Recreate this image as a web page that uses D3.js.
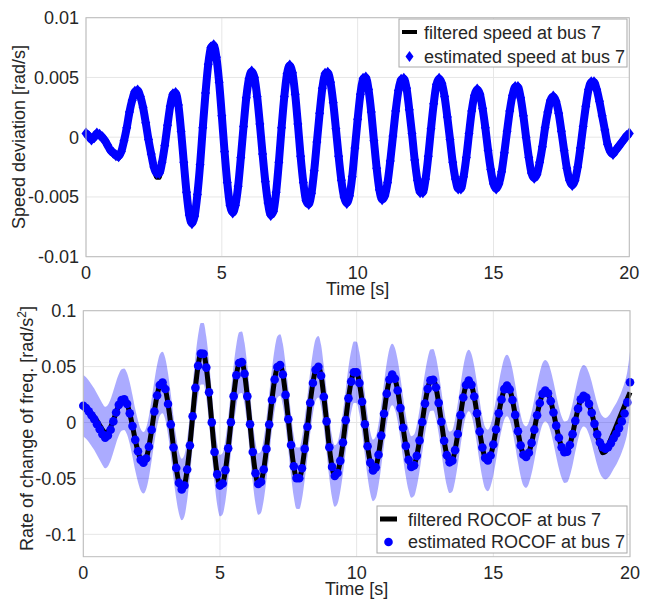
<!DOCTYPE html>
<html><head><meta charset="utf-8">
<script src="https://cdn.jsdelivr.net/npm/d3@7"></script>
<style>
body{margin:0;background:#fff;}
text{font-family:"Liberation Sans",Arial,Helvetica,sans-serif;fill:#262626;}
</style></head><body>
<svg id="chart" width="650" height="600"></svg>
<script>
// ---------------- DATA ----------------
const sampleStep = 0.1; // s, sampling grid 0..20 s
const speedEstimated = [
0.0003,0.0001,-0.0002,0.0000,0.0003,0.0002,0.0000,-0.0003,-0.0007,-0.0011,
-0.0013,-0.0015,-0.0016,-0.0012,-0.0003,0.0008,0.0021,0.0031,0.0038,0.0039,
0.0034,0.0025,0.0012,-0.0002,-0.0014,-0.0025,-0.0030,-0.0030,-0.0021,-0.0007,
0.0010,0.0026,0.0036,0.0037,0.0027,0.0005,-0.0021,-0.0046,-0.0065,-0.0072,
-0.0066,-0.0048,-0.0023,0.0008,0.0037,0.0061,0.0075,0.0077,0.0067,0.0046,
0.0018,-0.0012,-0.0038,-0.0057,-0.0063,-0.0057,-0.0041,-0.0017,0.0009,0.0033,
0.0049,0.0055,0.0050,0.0034,0.0011,-0.0014,-0.0037,-0.0055,-0.0065,-0.0062,
-0.0046,-0.0021,0.0008,0.0034,0.0053,0.0060,0.0054,0.0036,0.0011,-0.0016,
-0.0038,-0.0053,-0.0056,-0.0047,-0.0028,-0.0004,0.0020,0.0041,0.0053,0.0054,
0.0046,0.0029,0.0007,-0.0016,-0.0036,-0.0050,-0.0055,-0.0049,-0.0033,-0.0009,
0.0015,0.0036,0.0049,0.0050,0.0040,0.0021,-0.0003,-0.0026,-0.0044,-0.0052,
-0.0049,-0.0038,-0.0020,0.0001,0.0022,0.0039,0.0048,0.0049,0.0041,0.0023,
0.0003,-0.0019,-0.0036,-0.0046,-0.0046,-0.0035,-0.0016,0.0007,0.0028,0.0044,
0.0049,0.0045,0.0034,0.0017,-0.0002,-0.0021,-0.0035,-0.0043,-0.0043,-0.0033,
-0.0017,0.0003,0.0022,0.0035,0.0040,0.0036,0.0024,0.0008,-0.0011,-0.0027,
-0.0039,-0.0043,-0.0039,-0.0029,-0.0013,0.0005,0.0022,0.0035,0.0042,0.0042,
0.0033,0.0018,0.0000,-0.0017,-0.0030,-0.0034,-0.0031,-0.0021,-0.0008,0.0008,
0.0021,0.0031,0.0034,0.0030,0.0020,0.0005,-0.0011,-0.0026,-0.0036,-0.0040,
-0.0036,-0.0025,-0.0009,0.0009,0.0026,0.0040,0.0046,0.0046,0.0040,0.0030,
0.0018,0.0006,-0.0006,-0.0012,-0.0014,-0.0011,-0.0008,-0.0005,-0.0002,0.0001,
0.0003];
const speedFiltered = [
0.0003,0.0001,-0.0002,0.0000,0.0003,0.0002,0.0000,-0.0003,-0.0007,-0.0011,
-0.0015,-0.0017,-0.0018,-0.0013,-0.0003,0.0008,0.0021,0.0031,0.0038,0.0040,
0.0034,0.0025,0.0012,-0.0002,-0.0015,-0.0027,-0.0034,-0.0034,-0.0023,-0.0007,
0.0010,0.0026,0.0036,0.0037,0.0027,0.0005,-0.0021,-0.0046,-0.0063,-0.0068,
-0.0064,-0.0048,-0.0023,0.0008,0.0037,0.0060,0.0072,0.0074,0.0066,0.0046,
0.0018,-0.0012,-0.0038,-0.0056,-0.0061,-0.0056,-0.0041,-0.0017,0.0009,0.0033,
0.0048,0.0053,0.0049,0.0034,0.0011,-0.0014,-0.0037,-0.0054,-0.0062,-0.0060,
-0.0046,-0.0021,0.0008,0.0034,0.0052,0.0058,0.0053,0.0036,0.0011,-0.0016,
-0.0038,-0.0052,-0.0054,-0.0046,-0.0028,-0.0004,0.0020,0.0041,0.0052,0.0052,
0.0045,0.0029,0.0007,-0.0016,-0.0036,-0.0049,-0.0053,-0.0048,-0.0033,-0.0009,
0.0015,0.0036,0.0048,0.0049,0.0040,0.0021,-0.0003,-0.0026,-0.0043,-0.0050,
-0.0048,-0.0038,-0.0020,0.0001,0.0022,0.0039,0.0047,0.0048,0.0041,0.0023,
0.0003,-0.0019,-0.0036,-0.0045,-0.0045,-0.0035,-0.0016,0.0007,0.0028,0.0043,
0.0048,0.0045,0.0034,0.0017,-0.0002,-0.0021,-0.0035,-0.0042,-0.0042,-0.0033,
-0.0017,0.0003,0.0022,0.0035,0.0039,0.0036,0.0024,0.0008,-0.0011,-0.0027,
-0.0038,-0.0042,-0.0039,-0.0029,-0.0013,0.0005,0.0022,0.0035,0.0041,0.0041,
0.0033,0.0018,0.0000,-0.0017,-0.0030,-0.0033,-0.0031,-0.0021,-0.0008,0.0008,
0.0021,0.0030,0.0033,0.0030,0.0020,0.0005,-0.0011,-0.0026,-0.0035,-0.0039,
-0.0036,-0.0025,-0.0009,0.0009,0.0026,0.0039,0.0045,0.0045,0.0040,0.0030,
0.0018,0.0006,-0.0005,-0.0010,-0.0011,-0.0009,-0.0006,-0.0004,-0.0001,0.0001,
0.0003];
const rocofEstimated = [
0.015,0.013,0.010,0.0065,0.003,-0.0015,-0.006,-0.0105,-0.0135,-0.0116,
-0.0064,0.001,0.009,0.0158,0.0201,0.0208,0.0167,0.0082,-0.0032,-0.0155,
-0.0257,-0.0334,-0.036,-0.0322,-0.0216,-0.0065,0.0099,0.0242,0.0336,0.0358,
0.030,0.0166,-0.0017,-0.0223,-0.0406,-0.054,-0.0598,-0.0563,-0.042,-0.0206,
0.0056,0.031,0.0507,0.0616,0.0614,0.0491,0.027,0.0001,-0.0264,-0.0464,
-0.0564,-0.0545,-0.0426,-0.0231,0.0002,0.0236,0.0423,0.0532,0.054,0.0436,
0.0234,-0.0015,-0.0264,-0.0454,-0.055,-0.0531,-0.042,-0.0236,-0.0018,0.0201,
0.0385,0.0496,0.0515,0.043,0.0247,0.0029,-0.0201,-0.0392,-0.0497,-0.0499,
-0.0409,-0.0236,-0.0038,0.0177,0.0354,0.0471,0.0498,0.0418,0.0231,0.001,
-0.0221,-0.0397,-0.0478,-0.0452,-0.0343,-0.0179,0.0021,0.0216,0.0366,0.045,
0.0448,0.0354,0.0186,-0.0016,-0.0212,-0.0359,-0.0428,-0.0401,-0.0288,-0.0117,
0.0079,0.0258,0.0385,0.043,0.0392,0.0286,0.0129,-0.0047,-0.0209,-0.0334,
-0.0397,-0.0383,-0.0298,-0.0161,0.0004,0.0169,0.0301,0.0377,0.0383,0.0313,
0.0176,0.0007,-0.0163,-0.0292,-0.0356,-0.0341,-0.0247,-0.0103,0.0066,0.0224,
0.0335,0.0375,0.0337,0.0232,0.0082,-0.0081,-0.0223,-0.0316,-0.0339,-0.0295,
-0.0196,-0.0063,0.0082,0.0206,0.0299,0.033,0.0296,0.0202,0.0068,-0.0078,
-0.0205,-0.0288,-0.0309,-0.027,-0.0182,-0.0064,0.0065,0.0175,0.0257,0.0285,
0.0261,0.0191,0.0089,-0.0028,-0.0136,-0.0222,-0.0266,-0.026,-0.0201,-0.0104,
0.0015,0.0124,0.0207,0.024,0.0223,0.0167,0.0087,-0.0012,-0.0106,-0.0179,
-0.022,-0.0235,-0.022,-0.0185,-0.014,-0.010,-0.005,0.001,0.008,0.018,
0.036];
const rocofFiltered = [
0.015,0.0135,0.011,0.008,0.005,0.0015,-0.0025,-0.0065,-0.009,-0.008,
-0.004,0.002,0.009,0.0155,0.020,0.0208,0.0167,0.0082,-0.0032,-0.0155,
-0.0257,-0.0334,-0.036,-0.0322,-0.0216,-0.0065,0.0099,0.0242,0.0336,0.0358,
0.030,0.0166,-0.0017,-0.0223,-0.0406,-0.054,-0.0598,-0.0563,-0.042,-0.0206,
0.0056,0.031,0.0507,0.0616,0.0614,0.0491,0.027,0.0001,-0.0264,-0.0464,
-0.0564,-0.0545,-0.0426,-0.0231,0.0002,0.0236,0.0423,0.0532,0.054,0.0436,
0.0234,-0.0015,-0.0264,-0.0454,-0.055,-0.0531,-0.042,-0.0236,-0.0018,0.0201,
0.0385,0.0496,0.0515,0.043,0.0247,0.0029,-0.0201,-0.0392,-0.0497,-0.0499,
-0.0409,-0.0236,-0.0038,0.0177,0.0354,0.0471,0.0498,0.0418,0.0231,0.001,
-0.0221,-0.0397,-0.0478,-0.0452,-0.0343,-0.0179,0.0021,0.0216,0.0366,0.045,
0.0448,0.0354,0.0186,-0.0016,-0.0212,-0.0359,-0.0428,-0.0401,-0.0288,-0.0117,
0.0079,0.0258,0.0385,0.043,0.0392,0.0286,0.0129,-0.0047,-0.0209,-0.0334,
-0.0397,-0.0383,-0.0298,-0.0161,0.0004,0.0169,0.0301,0.0377,0.0383,0.0313,
0.0176,0.0007,-0.0163,-0.0292,-0.0356,-0.0341,-0.0247,-0.0103,0.0066,0.0224,
0.0335,0.0375,0.0337,0.0232,0.0082,-0.0081,-0.0223,-0.0316,-0.0339,-0.0295,
-0.0196,-0.0063,0.0082,0.0206,0.0299,0.033,0.0296,0.0202,0.0068,-0.0078,
-0.0205,-0.0288,-0.0309,-0.027,-0.0182,-0.0064,0.0065,0.0175,0.0257,0.0285,
0.0261,0.0191,0.0089,-0.0028,-0.0136,-0.0222,-0.0266,-0.026,-0.0201,-0.0104,
0.0015,0.0124,0.0207,0.024,0.0223,0.0167,0.0087,-0.0015,-0.0115,-0.020,
-0.027,-0.026,-0.021,-0.015,-0.009,-0.003,0.003,0.009,0.015,0.021,
0.027];
const rocofBandHalfWidth = 0.0275;
const timeTicks = [0, 5, 10, 15, 20];
const speedTicks = [-0.01, -0.005, 0, 0.005, 0.01];
const speedTickLabels = ["-0.01", "-0.005", "0", "0.005", "0.01"];
const rocofTicks = [-0.1, -0.05, 0, 0.05, 0.1];
const rocofTickLabels = ["-0.1", "-0.05", "0", "0.05", "0.1"];
const speedLegend = ["filtered speed at bus 7", "estimated speed at bus 7"];
const rocofLegend = ["filtered ROCOF at bus 7", "estimated ROCOF at bus 7"];
const xLabel = "Time [s]";
const speedYLabel = "Speed deviation [rad/s]";

// ---------------- DRAW ----------------
const svg = d3.select("#chart");
const BLUE = "#0000ff";
const FONT = 18;

function rows(vals){ return vals.map((v,i)=>({t: i*sampleStep, v})); }

function frame(g, x, y, yTicks){
  const [x0,x1] = x.range(), [y0,y1] = y.range();
  g.append("rect").attr("x",x0).attr("y",y1).attr("width",x1-x0).attr("height",y0-y1).attr("fill","#fff");
  g.selectAll(".gx").data(timeTicks).join("line").attr("class","gx")
    .attr("x1",d=>x(d)).attr("x2",d=>x(d)).attr("y1",y0).attr("y2",y1)
    .attr("stroke","#e6e6e6").attr("stroke-width",1);
  g.selectAll(".gy").data(yTicks).join("line").attr("class","gy")
    .attr("x1",x0).attr("x2",x1).attr("y1",d=>y(d)).attr("y2",d=>y(d))
    .attr("stroke","#e6e6e6").attr("stroke-width",1);
}
function box(g, x, y, yTicks, yLabels){
  const [x0,x1] = x.range(), [y0,y1] = y.range();
  g.append("rect").attr("x",x0).attr("y",y1).attr("width",x1-x0).attr("height",y0-y1)
    .attr("fill","none").attr("stroke","#bcbcbc").attr("stroke-width",1);
  g.selectAll(".tx").data(timeTicks).join("text").attr("class","tx")
    .attr("x",d=>x(d)).attr("y",y0+22.5).attr("text-anchor","middle")
    .attr("font-size",FONT).text(d=>d);
  g.selectAll(".ty").data(yTicks).join("text").attr("class","ty")
    .attr("x",x0-7).attr("y",d=>y(d)).attr("dy","0.35em").attr("text-anchor","end")
    .attr("font-size",FONT).text((d,i)=>yLabels[i]);
  g.append("text").attr("x",(x0+x1)/2).attr("y",y0+38.3).attr("text-anchor","middle")
    .attr("font-size",FONT).text(xLabel);
}

// ---- Top panel ----
const xTop = d3.scaleLinear().domain([0,20]).range([86,629.3]);
const yTop = d3.scaleLinear().domain([-0.01,0.01]).range([256.7,17.7]);
const gTop = svg.append("g");
frame(gTop, xTop, yTop, speedTicks);
const lineTop = d3.line().x(d=>xTop(d.t)).y(d=>yTop(d.v)).curve(d3.curveMonotoneX);
gTop.append("path").attr("d", lineTop(rows(speedFiltered))).attr("fill","none")
  .attr("stroke","#000").attr("stroke-width",4);
gTop.append("path").attr("d", lineTop(rows(speedEstimated))).attr("fill","none")
  .attr("stroke",BLUE).attr("stroke-width",8).attr("stroke-linejoin","round");
const diamond = "M0,-6L4.5,0L0,6L-4.5,0Z";
gTop.selectAll(".dm").data(rows(speedEstimated)).join("path").attr("class","dm")
  .attr("transform",d=>`translate(${xTop(d.t)},${yTop(d.v)})`)
  .attr("d",diamond).attr("fill",BLUE);
box(gTop, xTop, yTop, speedTicks, speedTickLabels);
gTop.append("text").attr("transform","translate(25,137) rotate(-90)").attr("text-anchor","middle")
  .attr("font-size",FONT).text(speedYLabel);
// legend top
const lgT = gTop.append("g");
lgT.append("rect").attr("x",399).attr("y",19).attr("width",228).attr("height",48)
  .attr("fill","#fff").attr("stroke","#a8a8a8").attr("stroke-width",1);
lgT.append("line").attr("x1",402).attr("x2",417).attr("y1",32).attr("y2",32)
  .attr("stroke","#000").attr("stroke-width",4);
lgT.append("path").attr("d","M0,-5.5L4,0L0,5.5L-4,0Z").attr("transform","translate(409.5,56.5)").attr("fill",BLUE);
lgT.selectAll(".lt").data(speedLegend).join("text").attr("class","lt")
  .attr("x",424).attr("y",(d,i)=>38.8+i*24).attr("font-size",FONT).text(d=>d);

// ---- Bottom panel ----
const xBot = d3.scaleLinear().domain([0,20]).range([83.3,630]);
const yBot = d3.scaleLinear().domain([-0.12,0.1]).range([556.7,310.7]);
const gBot = svg.append("g");
frame(gBot, xBot, yBot, rocofTicks);
const estRows = rows(rocofEstimated);
const band = d3.area().x(d=>xBot(d.t))
  .y0(d=>yBot(d.v - rocofBandHalfWidth)).y1(d=>yBot(d.v + rocofBandHalfWidth))
  .curve(d3.curveMonotoneX);
gBot.append("path").attr("d", band(estRows)).attr("fill",BLUE).attr("fill-opacity",0.33);
const lineBot = d3.line().x(d=>xBot(d.t)).y(d=>yBot(d.v)).curve(d3.curveMonotoneX);
gBot.append("path").attr("d", lineBot(rows(rocofFiltered))).attr("fill","none")
  .attr("stroke","#000").attr("stroke-width",5);
gBot.selectAll(".dot").data(estRows).join("circle").attr("class","dot")
  .attr("cx",d=>xBot(d.t)).attr("cy",d=>yBot(d.v)).attr("r",4.3).attr("fill",BLUE);
box(gBot, xBot, yBot, rocofTicks, rocofTickLabels);
const yl = gBot.append("text").attr("transform","translate(33,428.5) rotate(-90)")
  .attr("text-anchor","middle").attr("font-size",FONT);
yl.append("tspan").text("Rate of change of freq. [rad/s");
yl.append("tspan").attr("font-size",12).attr("baseline-shift","super").text("2");
yl.append("tspan").text("]");
// legend bottom
const lgB = gBot.append("g");
lgB.append("rect").attr("x",377).attr("y",506).attr("width",250).attr("height",47)
  .attr("fill","#fff").attr("stroke","#a8a8a8").attr("stroke-width",1);
lgB.append("line").attr("x1",380).attr("x2",397).attr("y1",519).attr("y2",519)
  .attr("stroke","#000").attr("stroke-width",5);
lgB.append("circle").attr("cx",388.5).attr("cy",542).attr("r",4.3).attr("fill",BLUE);
lgB.selectAll(".lb").data(rocofLegend).join("text").attr("class","lb")
  .attr("x",408).attr("y",(d,i)=>525.8+i*22.5).attr("font-size",FONT).text(d=>d);
</script>
</body></html>
